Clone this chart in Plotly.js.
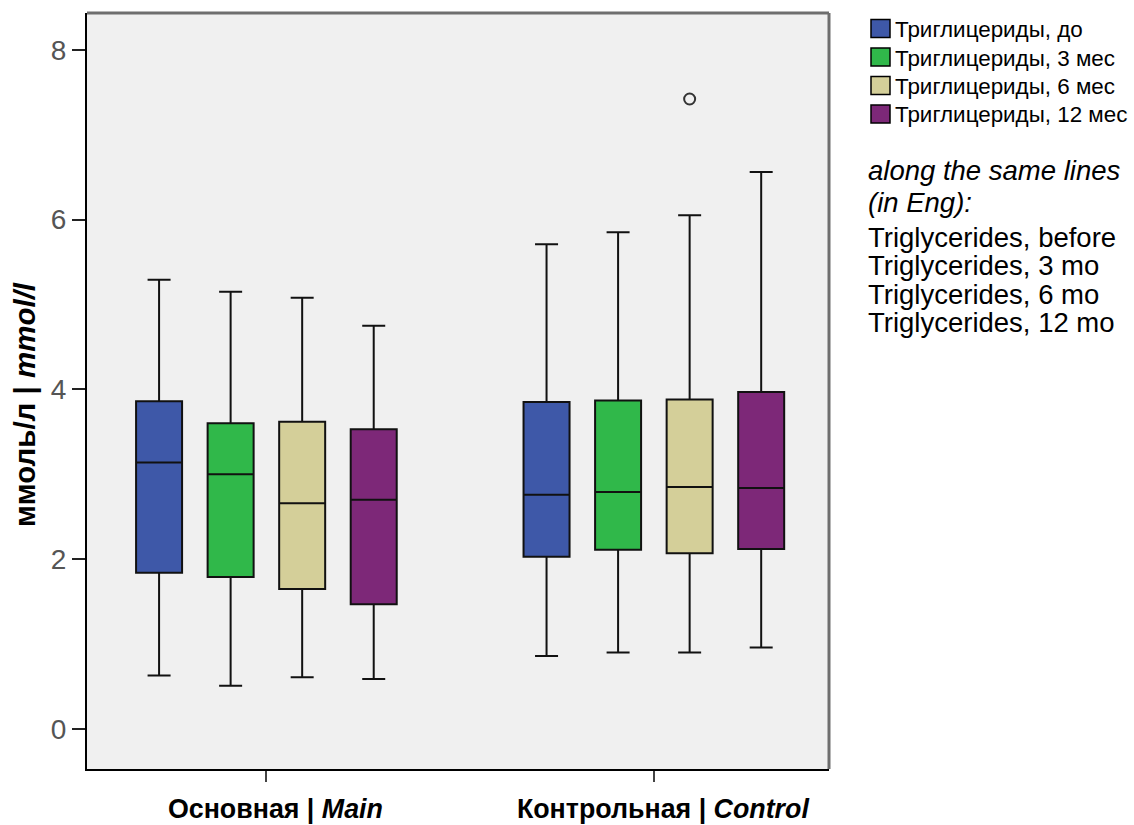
<!DOCTYPE html>
<html>
<head>
<meta charset="utf-8">
<script src="https://cdn.plot.ly/plotly-3.0.1.min.js"></script>
<style>html,body{margin:0;padding:0;background:#fff;}</style>
</head>
<body>
<div id="chart" style="width:1134px;height:825px;"></div>
<script>
// ---- data ----
const groupPos = [0, 1];
const groupLabels = ['<b>Основная | <i>Main</i></b>', '<b>Контрольная | <i>Control</i></b>'];
const seriesNames = ['Триглицериды, до', 'Триглицериды, 3 мес', 'Триглицериды, 6 мес', 'Триглицериды, 12 мес'];
const seriesColors = ['#3e58a8', '#30b84a', '#d4cf99', '#7d2878'];
// per series: [Main, Control]
const lowerWhisker = [[0.63, 0.86], [0.51, 0.90], [0.61, 0.90], [0.59, 0.96]];
const q1Values     = [[1.84, 2.03], [1.79, 2.11], [1.65, 2.07], [1.47, 2.12]];
const medianValues = [[3.14, 2.76], [3.00, 2.79], [2.66, 2.85], [2.70, 2.84]];
const q3Values     = [[3.86, 3.85], [3.60, 3.87], [3.62, 3.88], [3.53, 3.97]];
const upperWhisker = [[5.29, 5.71], [5.15, 5.85], [5.08, 6.05], [4.75, 6.56]];
// outlier: series index, group index, value
const outlierSeries = [2];
const outlierGroup = [1];
const outlierValue = [7.42];
const yTicks = [0, 2, 4, 6, 8];
const yTitle = '<b>ммоль/л | <i>mmol/l</i></b>';
const noteLines = ['<i>along the same lines</i>', '<i>(in Eng):</i>', 'Triglycerides, before', 'Triglycerides, 3 mo', 'Triglycerides, 6 mo', 'Triglycerides, 12 mo'];

// ---- layout params ----
const boxGap = 0.2614, boxGroupGap = 0.357;
const FONT = 'Liberation Sans, Arial, sans-serif';
const plotL = 87, plotR = 829, plotT = 13, plotB = 769;
const pw = plotR - plotL, ph = plotB - plotT;
const px = v => (v - plotL) / pw;
const py = v => (plotB - v) / ph;

const traces = [];
seriesNames.forEach((name, i) => {
  traces.push({
    type: 'box', name: name, x: groupPos,
    lowerfence: lowerWhisker[i], q1: q1Values[i], median: medianValues[i],
    q3: q3Values[i], upperfence: upperWhisker[i],
    boxpoints: false, showlegend: false, hoverinfo: 'skip',
    fillcolor: seriesColors[i],
    line: {color: '#111', width: 2}, whiskerwidth: 0.5
  });
});
// outlier points placed at the offset Plotly uses for grouped boxes
const nBox = seriesNames.length;
const ox = [], oy = [];
outlierSeries.forEach((s, k) => {
  const off = 2 * 0.5 * (-0.5 + (s + 0.5) / nBox) * (1 - boxGap);
  ox.push(groupPos[outlierGroup[k]] + off);
  oy.push(outlierValue[k]);
});
traces.push({
  type: 'scatter', mode: 'markers', x: ox, y: oy, showlegend: false, hoverinfo: 'skip',
  marker: {symbol: 'circle-open', size: 11, color: '#333', line: {width: 2, color: '#333'}}
});

const shapes = [
  {type: 'line', xref: 'paper', yref: 'paper', x0: 0, x1: 1, y0: 1, y1: 1, line: {color: '#6e6e6e', width: 3}},
  {type: 'line', xref: 'paper', yref: 'paper', x0: 1, x1: 1, y0: 0, y1: 1, line: {color: '#6e6e6e', width: 3}}
];
const annotations = [];
// legend (drawn manually)
const legRowY = [28.5, 57, 85.5, 114];
seriesNames.forEach((name, i) => {
  shapes.push({type: 'rect', xref: 'paper', yref: 'paper',
    x0: px(871), x1: px(890), y0: py(legRowY[i] - 9), y1: py(legRowY[i] + 9),
    fillcolor: seriesColors[i], line: {color: '#000', width: 1.5}});
  annotations.push({xref: 'paper', yref: 'paper', x: px(893), y: py(legRowY[i] + 1),
    xanchor: 'left', yanchor: 'middle', showarrow: false, text: name,
    font: {family: FONT, size: 22.4, color: '#000'}});
});
const noteY = [170, 202, 237, 265, 294, 322];
noteLines.forEach((t, i) => {
  annotations.push({
    xref: 'paper', yref: 'paper', x: px(866), y: py(noteY[i]),
    xanchor: 'left', yanchor: 'middle', showarrow: false, text: t,
    font: {family: FONT, size: 27.5, color: '#000'}
  });
});
annotations.push({xref: 'paper', yref: 'paper', x: px(24), y: py(405), textangle: -90,
  xanchor: 'center', yanchor: 'middle', showarrow: false, text: yTitle,
  font: {family: FONT, size: 29.5, color: '#000'}});

const layout = {
  width: 1134, height: 825,
  margin: {l: plotL, r: 1134 - plotR, t: plotT, b: 825 - plotB, pad: 0, autoexpand: false},
  paper_bgcolor: '#fff', plot_bgcolor: '#f0f0f0',
  font: {family: FONT, color: '#000'},
  boxmode: 'group', boxgap: boxGap, boxgroupgap: boxGroupGap,
  showlegend: false,
  xaxis: {range: [-0.463, 1.452], tickvals: groupPos, ticktext: groupLabels,
          ticks: 'outside', ticklen: 11, tickwidth: 2, tickcolor: '#444',
          showline: true, linecolor: '#000', linewidth: 2, showgrid: false, zeroline: false,
          tickfont: {family: FONT, size: 26.8, color: '#000'}, ticklabelshift: 9, ticklabelstandoff: 4,
          automargin: false, fixedrange: true},
  yaxis: {range: [-0.471, 8.433], tickvals: yTicks, ticktext: yTicks.map(String),
          ticks: 'outside', ticklen: 13, tickwidth: 2, tickcolor: '#222',
          showline: true, linecolor: '#000', linewidth: 2, showgrid: false, zeroline: false,
          tickfont: {family: FONT, size: 28, color: '#555'},
          automargin: false, fixedrange: true},
  shapes: shapes,
  annotations: annotations
};

Plotly.newPlot('chart', traces, layout, {displayModeBar: false, staticPlot: true});
</script>
</body>
</html>
